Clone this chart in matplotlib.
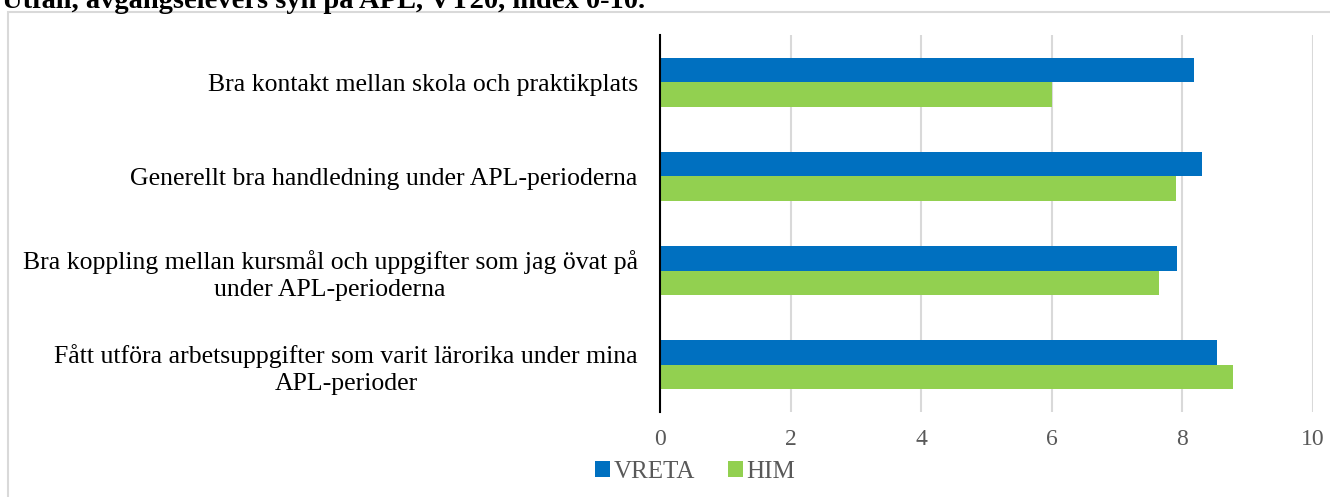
import matplotlib.pyplot as plt
import numpy as np
from matplotlib.patches import Rectangle

# data
categories = ['Bra kontakt mellan skola och praktikplats',
              'Generellt bra handledning under APL-perioderna',
              'Bra koppling mellan kursmål och uppgifter som jag övat på\nunder APL-perioderna',
              'Fått utföra arbetsuppgifter som varit lärorika under mina\nAPL-perioder']
vreta = [8.17, 8.30, 7.91, 8.53]
him = [6.01, 7.90, 7.64, 8.77]
series_names = ['VRETA', 'HIM']
xticks = [0, 2, 4, 6, 8, 10]

W, H = 1330, 497
fig = plt.figure(figsize=(W / 100, H / 100), dpi=100)
serif = 'Liberation Serif'

# chart frame (right and bottom edges fall outside the picture)
fig.patches.append(Rectangle((8 / W, -0.2), 1.2, 1.2 - 12 / H, transform=fig.transFigure,
                             fill=False, edgecolor='#d9d9d9', linewidth=1.5))
# title (cut off at the top in the reference)
fig.text(2 / W, 1 - 8 / H, 'Utfall, avgångselevers syn på APL, VT20, index 0-10.',
         fontsize=20.5, fontweight='bold', family=serif, va='baseline', ha='left')

ax = fig.add_axes([660 / W, 1 - 412 / H, (1313 - 660) / W, (412 - 35) / H])
y = np.arange(len(categories))
h = 0.26
ax.barh(y - h / 2, vreta, height=h, color='#0070C0', label=series_names[0], zorder=3)
ax.barh(y + h / 2, him, height=h, color='#92D050', label=series_names[1], zorder=3)

ax.set_ylim(len(categories) - 0.5, -0.5)
ax.set_xlim(0, 10)
ax.set_xticks(xticks)
ax.set_xticklabels([str(t) for t in xticks], family=serif, fontsize=17, color='#595959')
ax.set_yticks(y)
ax.set_yticklabels(categories, family=serif, fontsize=18.5, color='#000000',
                   multialignment='center', linespacing=1.3)
ax.tick_params(axis='y', length=0, pad=16)
ax.tick_params(axis='x', length=0, pad=12)
ax.grid(axis='x', color='#d9d9d9', linewidth=1.5, zorder=0)
for s in ['top', 'right', 'bottom']:
    ax.spines[s].set_visible(False)
ax.spines['left'].set_color('black')
ax.spines['left'].set_linewidth(1.5)
ax.spines['left'].set_zorder(4)

leg = ax.legend(loc='center', bbox_to_anchor=(695 / W, 1 - 472 / H),
                bbox_transform=fig.transFigure, ncol=2, frameon=False,
                prop={'family': serif, 'size': 18}, handlelength=0.6, handleheight=0.6,
                handletextpad=0.15, columnspacing=1.3)
for t in leg.get_texts():
    t.set_color('#595959')

fig.savefig('out.png', dpi=100)
